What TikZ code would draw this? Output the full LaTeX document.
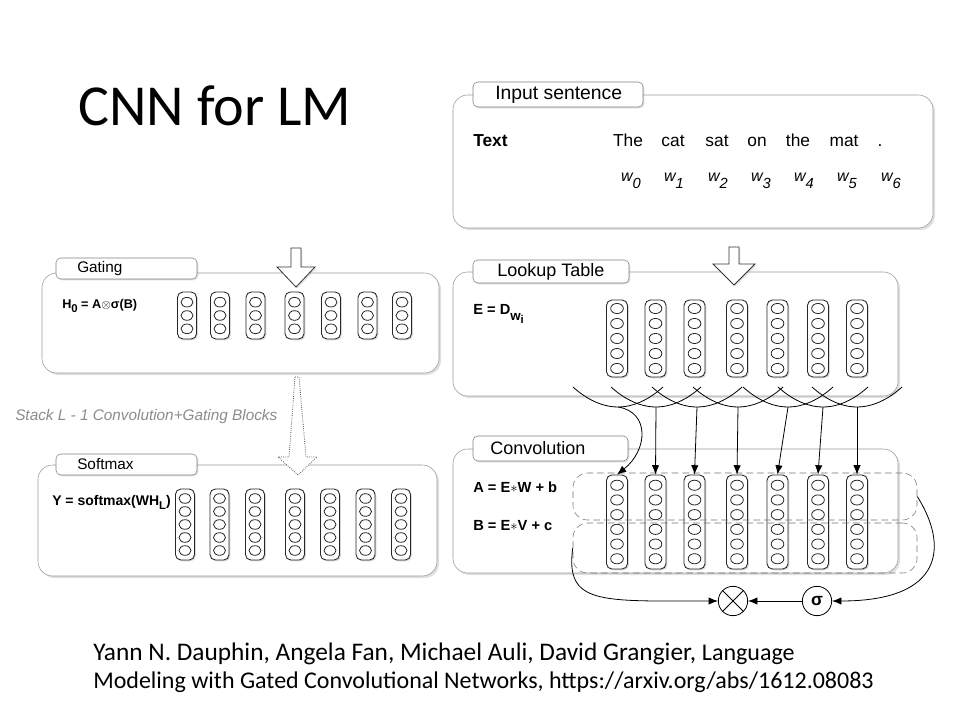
\documentclass[tikz,border=0pt]{standalone}
\usepackage{fontspec}
\setmainfont{Liberation Sans}
\newfontfamily\calibri{Carlito}
\usetikzlibrary{arrows.meta,shadows,fit,shapes.geometric}

\newcommand{\wsub}[1]{w\raisebox{-5pt}{\fontsize{11}{11}\selectfont #1}}
\newcommand{\lowsub}[2]{\raisebox{-#1}{\fontsize{8.5}{8.5}\selectfont #2}}

\tikzset{
  panelbox/.style={draw=black!40, fill=white, rounded corners=11pt, inner sep=0pt,
    drop shadow={shadow xshift=1.5pt, shadow yshift=-1.5pt, opacity=.25}},
  tabbox/.style={draw=black!50, fill=white, rounded corners=3.5pt, inner sep=0pt,
    drop shadow={shadow xshift=1pt, shadow yshift=-1pt, opacity=.25}},
  tablabel/.style={anchor=west, inner sep=0pt, font=\fontsize{13.5}{15}\selectfont},
  vcol/.style={draw=black!85, line width=.65pt, fill=white, rounded corners=4pt, inner sep=0pt,
    minimum width=15.75pt, drop shadow={shadow xshift=1pt, shadow yshift=-1pt, opacity=.3}},
  unitcirc/.style={draw=black!85, line width=.6pt, ellipse, inner sep=0pt, minimum width=9.5pt, minimum height=7.6pt},
  eqlabel/.style={anchor=base west, inner sep=0pt, font=\bfseries\fontsize{11}{13}\selectfont},
  wordlabel/.style={anchor=base, inner sep=0pt, font=\fontsize{13}{15}\selectfont},
  bandbox/.style={draw=black!55, dash pattern=on 5pt off 3pt, rounded corners=11pt, inner sep=0pt},
  opcirc/.style={draw, circle, minimum size=22pt, inner sep=0pt, line width=.6pt},
  conn/.style={-{Latex[length=7pt,width=5.5pt]}, line width=.6pt},
  hollow/.style={draw=black!80, fill=white, line width=.6pt,
    drop shadow={shadow xshift=1pt, shadow yshift=-1pt, opacity=.25}}
}

\begin{document}
\begin{tikzpicture}[x=0.75pt,y=-0.75pt]
\fill[white] (0,0) rectangle (960,720);
\useasboundingbox (0,0) rectangle (960,720);

\node[anchor=base west, inner sep=0pt, font=\calibri\fontsize{43.5}{52}\selectfont] (title) at (78,126) {CNN for LM};

% input sentence
\node[panelbox, fit={(453,95) (933,228)}] (input) {};
\node[tabbox, fit={(473,82) (643,107)}] (inputtab) {};
\node[tablabel, font=\fontsize{14.5}{16}\selectfont] (inputlbl) at (495,94.5) {Input sentence};
\node[anchor=base west, inner sep=0pt, font=\bfseries\fontsize{13}{15}\selectfont] (textlbl) at (473,147) {Text};
\foreach \x/\t [count=\i from 0] in {628/The,673/cat,717/sat,757/on,798/the,844/mat,880/.}
  \node[wordlabel] (tok\i) at (\x,147) {\t};
\foreach \x [count=\i from 0] in {631,674,718,761,804,847,891}
  \node[wordlabel, font=\itshape\fontsize{12}{14}\selectfont] (w\i) at (\x,182) {\wsub{\i}};

% lookup table
\node[panelbox, fit={(453,272) (898,396)}] (lookup) {};
\node[tabbox, fit={(473,260) (629,283)}] (lookuptab) {};
\node[tablabel] (lookuplbl) at (497,271.5) {Lookup Table};
\draw[hollow] (729,247) -- (739,247) -- (739,264) -- (755,264) -- (734,285) -- (713,264) -- (729,264) -- cycle;
\node[eqlabel] (eqE) at (473,315) {E = D\raisebox{-4pt}{\fontsize{10}{10}\selectfont w\lowsub{2.5pt}{i}}};
\foreach \x [count=\i] in {617,655.5,694.5,737,777.5,818,857}{
  \node[vcol, minimum height=57.75pt] (lk\i) at (\x,338.5) {};
  \foreach \k [count=\j] in {-2,...,2}
    \node[unitcirc] (lk\i u\j) at (\x,338.5+15*\k) {};
}

% convolution
\node[panelbox, fit={(453,449) (898,573)}] (conv) {};
\node[tabbox, fit={(473,436) (628,461)}] (convtab) {};
\node[tablabel] (convlbl) at (490,448.5) {Convolution};
\node[eqlabel] (eqA) at (473,492) {A = E{\normalfont$\ast$}W + b};
\node[eqlabel] (eqB) at (473,530) {B = E{\normalfont$\ast$}V + c};
\foreach \x [count=\i] in {617,655.5,694.5,737,777.5,818,857}{
  \node[vcol, minimum height=70.5pt] (cv\i) at (\x,522) {};
  \foreach \k [count=\j] in {-2.5,-1.5,...,2.5}
    \node[unitcirc] (cv\i u\j) at (\x,522+14.7*\k) {};
}
\node[bandbox, fit={(573,473) (917,520)}] (bandA) {};
\node[bandbox, fit={(573,523) (917,573)}] (bandB) {};

\foreach \b [count=\i] in {618,656,697,738,788,823,857}{
  \draw[line width=.6pt] (\b-45,387) parabola bend (\b,407) (\b+45,387);
  \coordinate (cup\i) at (\b,407);
}
\draw[conn] (cup1) .. controls (650,412) and (648,450) .. (cv1.north);
\foreach \i in {2,...,7}
  \draw[conn] (cup\i) -- (cv\i.north);

\node[opcirc] (mul) at (733,601) {};
\draw[line width=.6pt] (mul.north west) -- (mul.south east) (mul.north east) -- (mul.south west);
\node[opcirc, font=\bfseries\fontsize{13}{15}\selectfont] (sig) at (817,601) {σ};
\draw[conn] (sig) -- (mul);
\draw[conn] (bandB.west) .. controls (565,605) and (600,601) .. (mul.west);
\draw[conn] (bandA.east) .. controls (948,545) and (945,601) .. (sig.east);

% gating
\node[panelbox, fit={(42,273) (439,373)}] (gating) {};
\node[tabbox, fit={(56,258) (197,279)}] (gatingtab) {};
\node[tablabel, font=\fontsize{11.5}{14}\selectfont] (gatinglbl) at (77,268.5) {Gating};
\draw[hollow] (291,248) -- (301,248) -- (301,267) -- (315,267) -- (296,287) -- (277,267) -- (291,267) -- cycle;
\node[eqlabel, font=\bfseries\fontsize{9.5}{11}\selectfont] (eqH) at (62,308) {H\lowsub{3pt}{0} = A$\otimes$σ(B)};
\foreach \x [count=\i] in {187,220,255.5,294.5,331,367.5,402}{
  \node[vcol, minimum width=14.25pt, minimum height=35.25pt] (g\i) at (\x,315.5) {};
  \foreach \k [count=\j] in {-1,0,1}
    \node[unitcirc, minimum width=9pt, minimum height=7.2pt] (g\i u\j) at (\x,315.5+13.3*\k) {};
}

\node[anchor=base west, inner sep=0pt, text=black!45, font=\itshape\fontsize{11.5}{13}\selectfont] (stacklbl) at (15,420) {Stack L - 1 Convolution+Gating Blocks};

% softmax
\node[panelbox, fit={(38,465) (437,576)}] (softmax) {};
\node[tabbox, fit={(56,454) (197,475)}] (softmaxtab) {};
\node[tablabel, font=\fontsize{11.5}{14}\selectfont] (softmaxlbl) at (77,464.5) {Softmax};
\draw[draw=black!70, fill=white, densely dotted, line width=.6pt] (295,377) -- (299,377) -- (306,457) -- (317,457) -- (298,475) -- (278,457) -- (289,457) -- cycle;
\node[eqlabel, font=\bfseries\fontsize{10.5}{12}\selectfont] (eqY) at (52,505) {Y = softmax(WH\lowsub{3pt}{L})};
\foreach \x [count=\i] in {185,219.5,255,295,330,365.5,401}{
  \node[vcol, minimum width=14.25pt, minimum height=53.25pt] (s\i) at (\x,524.5) {};
  \foreach \k [count=\j] in {-2,...,2}
    \node[unitcirc, minimum width=9pt, minimum height=7.2pt] (s\i u\j) at (\x,524.5+13*\k) {};
}

\node[anchor=base west, inner sep=0pt, align=left, font=\calibri\fontsize{19}{21}\selectfont] (cite) at (93,688)
  {Yann N. Dauphin, Angela Fan, Michael Auli, David Grangier, {\fontsize{18}{21}\selectfont Language}\\
   {\fontsize{18}{21}\selectfont Modeling with Gated Convolutional Networks, https://arxiv.org/abs/1612.08083}};
\end{tikzpicture}
\end{document}
